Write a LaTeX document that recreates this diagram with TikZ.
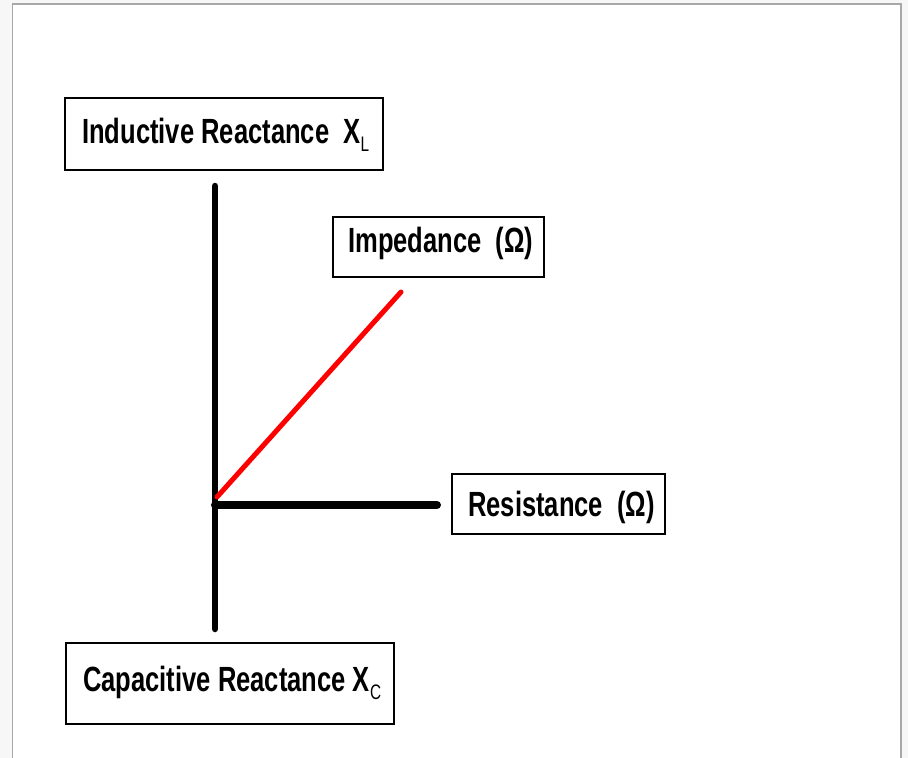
\documentclass[tikz,border=0pt]{standalone}
\usepackage{fontspec}
\newfontfamily\labfont{Liberation Sans}[FakeStretch=0.73]
\newcommand{\lowsub}[1]{\raisebox{-8pt}{\mdseries\fontsize{21}{24}\selectfont #1}}
\definecolor{outerbg}{HTML}{F7F7F7}
\definecolor{framegray}{HTML}{A8A8A8}
\tikzset{
  labelbox/.style={draw=black, line width=1.2pt, fill=white, inner sep=0pt},
  labeltext/.style={inner sep=0pt, anchor=base west,
    font=\labfont\bfseries\fontsize{35}{40}\selectfont},
  axis/.style={line width=6.5pt, line cap=round, black},
  phasor/.style={line width=5pt, line cap=round, red},
}
\begin{document}
\begin{tikzpicture}[x=1pt,y=-1pt]
\useasboundingbox (0,0) rectangle (908,758);
\fill[outerbg] (0,0) rectangle (908,758);
\fill[white] (12,4) rectangle (901,762);
\draw[framegray, line width=1.6pt] (12.5,762) -- (12.5,4) -- (901,4) -- (901,762);
% boxes
\node[labelbox, minimum width=318pt, minimum height=72pt] (ind) at (224,134) {};
\node[labelbox, minimum width=211pt, minimum height=60pt] (imp) at (438.5,247) {};
\node[labelbox, minimum width=213pt, minimum height=60pt] (res) at (558.5,504) {};
\node[labelbox, minimum width=328pt, minimum height=81pt] (cap) at (230,683.5) {};
% texts
\node[labeltext] (indt) at (82,143) {Inductive Reactance\ \ X\lowsub{L}};
\node[labeltext] (impt) at (348,252) {Impedance\ \ (Ω)};
\node[labeltext] (rest) at (468,516) {Resistance\ \ (Ω)};
\node[labeltext] (capt) at (83,691.5) {Capacitive Reactance X\lowsub{C}};
% axes
\coordinate (O) at (215,505);
\coordinate (top) at (215,186);
\coordinate (bot) at (215,629);
\coordinate (rend) at (437,505);
\coordinate (zend) at (401,292);
\draw[axis] (top) -- (bot);
\draw[axis, line width=8pt] (O) -- (rend);
\draw[phasor] (217,497) -- (zend);
\end{tikzpicture}
\end{document}
